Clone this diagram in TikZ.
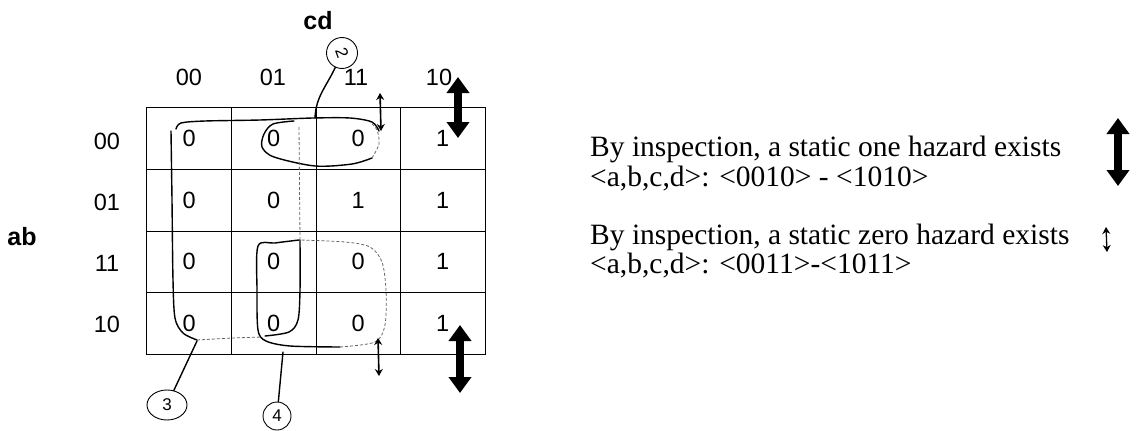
\documentclass[tikz,border=0pt]{standalone}
\usepackage{fontspec}
\setmainfont{Liberation Serif}
\newfontfamily\arialf{Liberation Sans}
\usetikzlibrary{arrows.meta,shapes.geometric}
\begin{document}
\begin{tikzpicture}[x=1pt,y=-1pt,
  cell/.style={minimum width=84.5pt, minimum height=61.5pt, inner sep=0pt, font=\arialf\fontsize{23.5}{23.5}\selectfont},
  gridline/.style={line width=1.3pt},
  lab/.style={font=\arialf\fontsize{23.5}{23.5}\selectfont, inner sep=0pt},
  axis/.style={font=\arialf\bfseries\fontsize{25}{25}\selectfont, inner sep=0pt},
  txt/.style={font=\fontsize{29.5}{29.5}\selectfont, anchor=base west, inner sep=0pt},
  hand/.style={line width=1.4pt, line cap=round, line join=round},
  faint/.style={line width=0.8pt, densely dashed, black!60},
  circ/.style={draw, line width=0.9pt, circle, inner sep=1pt, font=\arialf\fontsize{17}{17}\selectfont},
  bigarr/.style={line width=8pt, {Triangle[width=22pt,length=16pt]}-{Triangle[width=22pt,length=16pt]}},
  smallarr/.style={line width=1.6pt, {Stealth[width=8pt,length=7pt]}-{Stealth[width=8pt,length=7pt]}}
]
\useasboundingbox (0,0) rectangle (1138,431);

% axis labels
\node[axis] (cd) at (318,21) {cd};
\node[axis] (ab) at (22,237) {ab};
\node[lab] (h1) at (189,77) {00};
\node[lab] (h2) at (273,77) {01};
\node[lab] (h3) at (356,77) {11};
\node[lab] (h4) at (439,77) {10};
\node[lab] (v1) at (107,141) {00};
\node[lab] (v2) at (107,202) {01};
\node[lab] (v3) at (107,263) {11};
\node[lab] (v4) at (107,324) {10};

% K-map cells
\foreach \y/\rn/\va/\vb/\vc/\vd in {138.75/r1/0/0/0/1, 200.25/r2/0/0/1/1, 261.75/r3/0/0/0/1, 323.25/r4/0/0/0/1}{
  \node[cell] (\rn a) at (189.25,\y) {\va};
  \node[cell] (\rn b) at (273.75,\y) {\vb};
  \node[cell] (\rn c) at (358.25,\y) {\vc};
  \node[cell] (\rn d) at (442.75,\y) {\vd};
}
\draw[gridline] (r1a.north west) rectangle (r4d.south east);
\draw[gridline] (r1a.north east) -- (r4a.south east);
\draw[gridline] (r1b.north east) -- (r4b.south east);
\draw[gridline] (r1c.north east) -- (r4c.south east);
\draw[gridline] (r1a.south west) -- (r1d.south east);
\draw[gridline] (r2a.south west) -- (r2d.south east);
\draw[gridline] (r3a.south west) -- (r3d.south east);

% loop 2 (row 00, columns 01-11)
\draw[hand] plot[smooth] coordinates {(294,121) (273,124) (264,134) (262,147) (274,157) (315,166) (352,164) (372,158)};
\draw[faint] plot[smooth] coordinates {(372,158) (379,144) (377,130) (370,122)};
% loop 3 (columns 00-01, all rows)
\draw[hand] plot[smooth] coordinates {(176,129) (181,123) (205,121) (260,120) (313,118) (350,118) (372,122) (379,131)};
\draw[hand] plot[smooth] coordinates {(171,131) (172,200) (173,280) (175,318) (183,333) (197,340)};
\draw[faint] (197,340) -- (232,338) -- (262,337);
\draw[faint] (299,127) -- (300,240);
\draw[hand] plot[smooth] coordinates {(300,240) (300,290) (298,320) (289,332) (265,336)};
% loop 4 (rows 11-10, columns 01-11)
\draw[hand] plot[smooth] coordinates {(299,240) (275,243) (258,246) (257,290) (258,330) (266,341) (290,346) (340,347)};
\draw[faint] plot[smooth] coordinates {(340,347) (375,342) (385,325) (386,290) (382,262) (370,247) (345,242) (300,240)};

% circled labels and their pointers
\node[circ, minimum size=31pt] (c2) at (342,53) {\rotatebox{-70}{2}};
\node[circ, ellipse, minimum width=40pt, minimum height=30pt] (c3) at (167,405) {3};
\node[circ, minimum size=28pt] (c4) at (277,416) {4};
\coordinate (p2) at (315,118);
\coordinate (p3) at (197,341);
\coordinate (p4) at (283,352);
\draw[hand] (c2) to[out=-115,in=88] (p2);
\draw[hand] (c3) -- (p3);
\draw[hand] (c4) -- (p4);

% hazard arrows on the map
\coordinate (a1t) at (458,77);  \coordinate (a1b) at (458,138);
\coordinate (a2t) at (460,325); \coordinate (a2b) at (460,393);
\coordinate (s1t) at (380,93);  \coordinate (s1b) at (381,131);
\coordinate (s2t) at (378,338); \coordinate (s2b) at (379,376);
\draw[bigarr] (a1t) -- (a1b);
\draw[bigarr] (a2t) -- (a2b);
\draw[smallarr] (s1t) -- (s1b);
\draw[smallarr] (s2t) -- (s2b);

% explanation
\node[txt] (t1) at (590,156) {By inspection, a static one hazard exists};
\node[txt] (t2) at (590,186) {<a,b,c,d>: <0010> - <1010>};
\node[txt] (t3) at (590,244) {By inspection, a static zero hazard exists};
\node[txt] (t4) at (590,273) {<a,b,c,d>: <0011>-<1011>};
\coordinate (a3t) at (1118,118); \coordinate (a3b) at (1118,186);
\coordinate (s3t) at (1106,227); \coordinate (s3b) at (1107,252);
\draw[bigarr] (a3t) -- (a3b);
\draw[smallarr, line width=1.3pt] (s3t) -- (s3b);
\end{tikzpicture}
\end{document}
